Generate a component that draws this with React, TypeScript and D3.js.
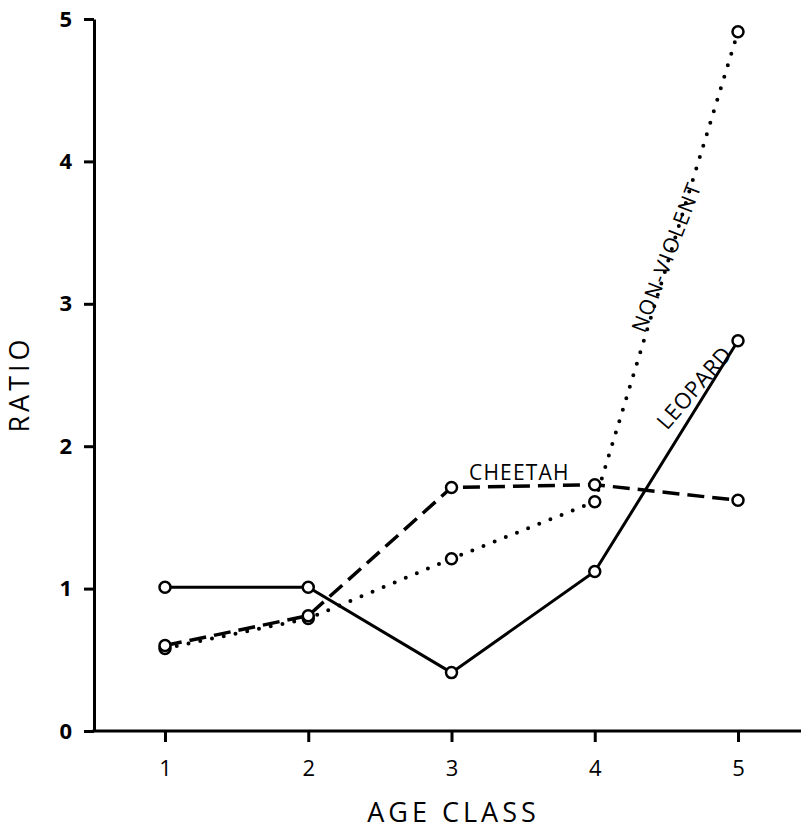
import React, { useEffect, useRef } from 'react';
import * as d3 from 'd3';

const ageClass = [1, 2, 3, 4, 5];
const leopard = [1.01, 1.01, 0.41, 1.12, 2.74];
const cheetah = [0.6, 0.81, 1.71, 1.73, 1.62];
const nonViolent = [0.58, 0.79, 1.21, 1.61, 4.91];
const yTicks = [0, 1, 2, 3, 4, 5];

const FONT = '"Open Sans", "DejaVu Sans", sans-serif';

export default function App() {
  const ref = useRef<SVGSVGElement>(null);

  useEffect(() => {
    const W = 801, H = 829;
    const svg = d3.select(ref.current);
    svg.selectAll('*').remove();
    svg.attr('width', W).attr('height', H);

    const x = d3.scaleLinear().domain([1, 5]).range([165, 738]);
    const y = d3.scaleLinear().domain([0, 5]).range([731, 19]);
    const axisX0 = 94;

    // y axis
    const gy = svg.append('g').attr('transform', `translate(${axisX0},0)`)
      .call(d3.axisLeft(y).tickValues(yTicks).tickSize(10).tickSizeOuter(0).tickPadding(12).tickFormat(d3.format('d')));
    gy.select('.domain').attr('stroke', '#000').attr('stroke-width', 3);
    gy.selectAll('line').attr('stroke', '#000').attr('stroke-width', 3);
    gy.selectAll('text').attr('font-family', FONT).attr('font-size', 22).attr('font-weight', 700).attr('fill', '#000');

    // x axis
    svg.append('line').attr('x1', axisX0 - 1.5).attr('x2', W).attr('y1', y(0)).attr('y2', y(0))
      .attr('stroke', '#000').attr('stroke-width', 3);
    const gx = svg.append('g').attr('transform', `translate(0,${y(0)})`)
      .call(d3.axisBottom(x).tickValues(ageClass).tickSize(11).tickSizeOuter(0).tickPadding(18).tickFormat(d3.format('d')));
    gx.select('.domain').remove();
    gx.selectAll('line').attr('stroke', '#000').attr('stroke-width', 3);
    gx.selectAll('text').attr('font-family', FONT).attr('font-size', 22).attr('fill', '#000');

    // axis titles
    svg.append('text').text('AGE CLASS').attr('x', (x(1) + x(5)) / 2 + 2).attr('y', 822)
      .attr('text-anchor', 'middle').attr('font-family', FONT).attr('font-size', 27)
      .attr('letter-spacing', 4).attr('fill', '#000');
    svg.append('text').text('RATIO').attr('transform', `translate(29,384) rotate(-90)`)
      .attr('text-anchor', 'middle').attr('font-family', FONT).attr('font-size', 27)
      .attr('letter-spacing', 4).attr('fill', '#000');

    const line = d3.line<number>().x((_, i) => x(ageClass[i])).y(d => y(d));

    const series = [
      { data: nonViolent, dash: '0 12', width: 4, cap: 'round' },
      { data: cheetah, dash: '17 8', width: 3.5, cap: 'butt' },
      { data: leopard, dash: null, width: 3, cap: 'butt' },
    ];

    series.forEach(s => {
      const p = svg.append('path').datum(s.data).attr('d', line).attr('fill', 'none')
        .attr('stroke', '#000').attr('stroke-width', s.width).attr('stroke-linecap', s.cap);
      if (s.dash) p.attr('stroke-dasharray', s.dash);
    });
    series.forEach(s => {
      svg.append('g').selectAll('circle').data(s.data).join('circle')
        .attr('cx', (_, i) => x(ageClass[i])).attr('cy', d => y(d)).attr('r', 5.5)
        .attr('fill', '#fff').attr('stroke', '#000').attr('stroke-width', 2.5);
    });

    // series labels
    svg.append('text').text('CHEETAH').attr('x', 469).attr('y', 480)
      .attr('font-family', FONT).attr('font-size', 21).attr('letter-spacing', 1.2).attr('fill', '#000');
    svg.append('text').text('NON-VIOLENT')
      .attr('transform', 'translate(645,334) rotate(-69)')
      .attr('font-family', FONT).attr('font-size', 21).attr('letter-spacing', 1.8).attr('fill', '#000');
    svg.append('text').text('LEOPARD')
      .attr('transform', 'translate(667,431) rotate(-49)')
      .attr('font-family', FONT).attr('font-size', 22).attr('letter-spacing', 0.5).attr('fill', '#000');
  }, []);

  return <svg ref={ref} style={{ position: 'absolute', left: 0, top: 0, background: '#fff' }} />;
}
